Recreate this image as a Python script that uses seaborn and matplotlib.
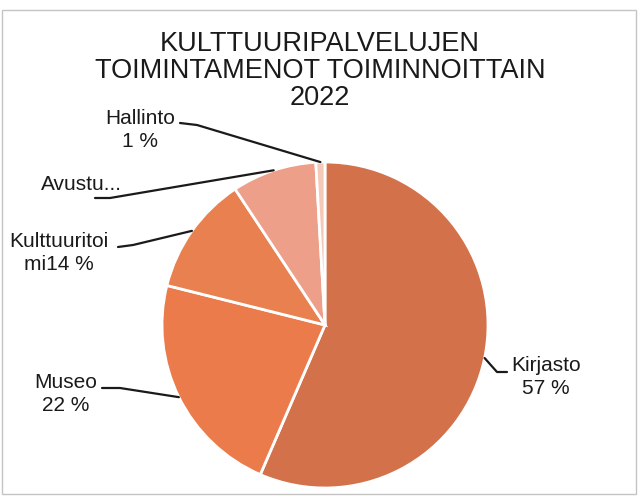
import numpy as np
import pandas as pd
import seaborn as sns
import matplotlib
matplotlib.use("Agg")
import matplotlib.pyplot as plt
from matplotlib.patches import Rectangle

# 데이터 (슬라이스 각도에서 읽은 값)
categories = ["Kirjasto", "Museo", "Kulttuuritoimi", "Avustukset", "Hallinto"]
shares     = [56.5, 22.4, 11.8, 8.4, 0.9]
label_text = ["Kirjasto\n57 %", "Museo\n22 %", "Kulttuuritoi\nmi14 %", "Avustu...", "Hallinto\n1 %"]
colors     = ["#D3724A", "#EB7B4B", "#E9804F", "#EE9F8A", "#F5C9B8"]

df = pd.DataFrame({"category": categories, "share": shares, "label": label_text})

sns.set_theme(style = "white")
plt.rcParams["font.family"] = ["Liberation Sans", "DejaVu Sans"]

W , H = 640 , 497
cx , cy , r = 325 , 325 , 163   # 파이 중심과 반지름 (픽셀)

fig = plt.figure(figsize = (W / 100 , H / 100), dpi = 100)
ax = fig.add_axes([0 , 0 , 1 , 1])

wedges , _ = ax.pie(df["share"] , colors = colors , startangle = 90 , counterclock = False ,
                    wedgeprops = dict(edgecolor = "white" , linewidth = 2))
ax.set_aspect("auto")
ax.set_xlim(-cx / r , (W - cx) / r)
ax.set_ylim(-(H - cy) / r , cy / r)
ax.axis("off")

def px(x , y) :
    # 픽셀 좌표 -> 데이터 좌표
    return (x - cx) / r , (cy - y) / r

# 라벨 위치 (픽셀) 과 지시선 꺾이는 점
label_pos = [(546 , 377) , (66 , 394) , (59 , 253) , (81 , 185) , (140 , 130)]
elbows    = [[(507 , 372) , (497 , 372)] ,
             [(102 , 388) , (120 , 388)] ,
             [(118 , 247) , (133 , 245)] ,
             [(95 , 198) , (110 , 198)] ,
             [(180 , 123) , (197 , 125)]]

for w , txt , pos , elb in zip(wedges , df["label"] , label_pos , elbows) :
    ang = np.deg2rad((w.theta1 + w.theta2) / 2)
    ax_ , ay_ = np.cos(ang) , np.sin(ang)
    pts = [px(*p) for p in elb] + [(ax_ , ay_)]
    ax.plot([p[0] for p in pts] , [p[1] for p in pts] , color = "#1a1a1a" , lw = 1.6 , clip_on = False)
    tx , ty = px(*pos)
    ax.text(tx , ty , txt , ha = "center" , va = "center" , fontsize = 15 ,
            color = "#1a1a1a" , linespacing = 1.25)

fig.text(320 / W , 1 - 71 / H , "KULTTUURIPALVELUJEN\nTOIMINTAMENOT TOIMINNOITTAIN\n2022" ,
         ha = "center" , va = "center" , fontsize = 19.5 , color = "#1a1a1a" , linespacing = 1.04)

fig.add_artist(Rectangle((2 / W , 3 / H) , 634 / W , 484 / H , transform = fig.transFigure ,
                         fill = False , edgecolor = "#c4c4c4" , lw = 1))

fig.savefig("out.png" , dpi = 100)
